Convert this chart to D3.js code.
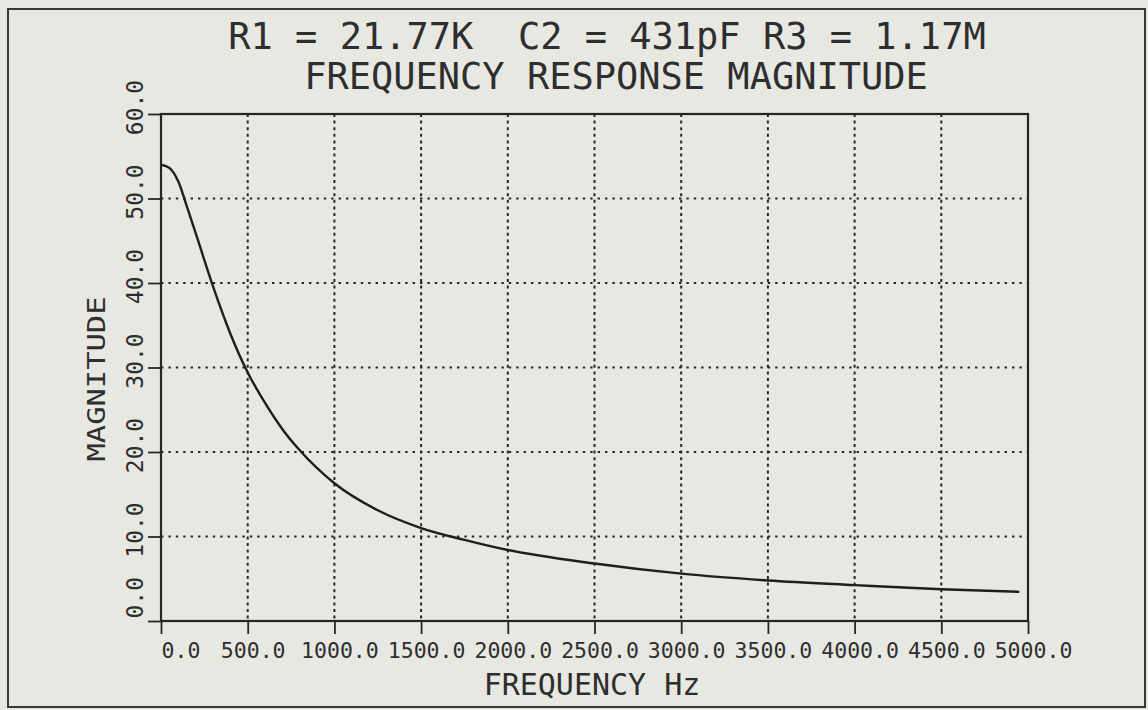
<!DOCTYPE html>
<html>
<head>
<meta charset="utf-8">
<script src="https://cdn.jsdelivr.net/npm/d3@7"></script>
<style>
  html, body { margin: 0; padding: 0; background: #e8e8e2; }
  svg { display: block; }
  text { font-family: "DejaVu Sans Mono", "Liberation Mono", monospace; fill: #2e2e2e; }
</style>
</head>
<body>
<svg id="chart" width="1148" height="710"></svg>
<script>
"use strict";

// values
const freqHz = [0, 50, 100, 150, 200, 300, 400, 500, 600, 700, 800, 1000, 1250,
  1500, 1750, 2000, 2500, 3000, 3500, 4000, 4500, 4950];
const magnitude = [54.0, 53.6, 52.0, 49.0, 45.9, 39.6, 34.0, 29.4, 25.8, 22.7, 20.2,
  16.3, 13.1, 11.0, 9.6, 8.4, 6.8, 5.6, 4.8, 4.25, 3.75, 3.45];

const xTicks = [0, 500, 1000, 1500, 2000, 2500, 3000, 3500, 4000, 4500, 5000];
const yTicks = [0, 10, 20, 30, 40, 50, 60];

const titleLines = ["R1 = 21.77K  C2 = 431pF R3 = 1.17M", "FREQUENCY RESPONSE MAGNITUDE"];
const xTitle = "FREQUENCY Hz";
const yTitle = "MAGNITUDE";

const ink = "#262626";
const svg = d3.select("#chart");

const box = { left: 161, right: 1028, top: 114, bottom: 621 };

const x = d3.scaleLinear().domain([0, 5000]).range([box.left, box.right]);
const y = d3.scaleLinear().domain([0, 60]).range([box.bottom, box.top]);

// outer frame
svg.append("rect")
  .attr("x", 8).attr("y", 9)
  .attr("width", 1137).attr("height", 698)
  .attr("fill", "none")
  .attr("stroke", ink)
  .attr("stroke-width", 1.8);

// titles
svg.append("text")
  .attr("x", 607).attr("y", 49)
  .attr("text-anchor", "middle")
  .style("font-size", "37px")
  .attr("xml:space", "preserve")
  .text(titleLines[0]);
svg.append("text")
  .attr("x", 616).attr("y", 89)
  .attr("text-anchor", "middle")
  .style("font-size", "37px")
  .text(titleLines[1]);

// dotted grid
const grid = svg.append("g").attr("stroke", ink).attr("stroke-width", 2);
grid.selectAll("line.vgrid")
  .data(xTicks.slice(1, -1))
  .join("line")
  .attr("class", "vgrid")
  .attr("x1", (d) => x(d)).attr("x2", (d) => x(d))
  .attr("y1", y(60)).attr("y2", y(0))
  .attr("stroke-dasharray", "3,3.6");
grid.selectAll("line.hgrid")
  .data(yTicks.slice(1, -1))
  .join("line")
  .attr("class", "hgrid")
  .attr("x1", x(0)).attr("x2", x(5000))
  .attr("y1", (d) => y(d)).attr("y2", (d) => y(d))
  .attr("stroke-dasharray", "2.4,5");

// axes
const xAxis = d3.axisBottom(x)
  .tickValues(xTicks)
  .tickSize(13)
  .tickSizeOuter(0)
  .tickFormat((d) => d.toFixed(1));
const yAxis = d3.axisLeft(y)
  .tickValues(yTicks)
  .tickSize(13)
  .tickSizeOuter(0)
  .tickFormat((d) => d.toFixed(1));

const gx = svg.append("g")
  .attr("transform", `translate(0,${box.bottom})`)
  .call(xAxis);
const gy = svg.append("g")
  .attr("transform", `translate(${box.left},0)`)
  .call(yAxis);

[gx, gy].forEach((g) => {
  g.select(".domain").remove();
  g.selectAll(".tick line").attr("stroke", ink).attr("stroke-width", 1.8);
  g.selectAll(".tick text").attr("fill", "#2e2e2e").style("font-size", "21.5px");
});

gx.selectAll(".tick text")
  .attr("y", 37)
  .attr("dy", 0)
  .attr("text-anchor", (d) => (d === 0 ? "start" : "middle"))
  .attr("x", (d) => (d === 0 ? 0 : 5));

gy.selectAll(".tick text")
  .attr("transform", "rotate(-90)")
  .attr("y", -18)
  .attr("dy", 0)
  .attr("text-anchor", (d) => (d === 0 ? "start" : "middle"))
  .attr("x", (d) => (d === 0 ? 3 : 7))
  .style("font-size", "23px");

// plot frame
svg.append("rect")
  .attr("x", box.left).attr("y", box.top)
  .attr("width", box.right - box.left)
  .attr("height", box.bottom - box.top)
  .attr("fill", "none")
  .attr("stroke", ink)
  .attr("stroke-width", 2.2);

// axis titles
svg.append("text")
  .attr("x", 592).attr("y", 695)
  .attr("text-anchor", "middle")
  .style("font-size", "30px")
  .text(xTitle);
svg.append("text")
  .attr("transform", `translate(105,379) rotate(-90)`)
  .attr("text-anchor", "middle")
  .attr("textLength", 165)
  .attr("lengthAdjust", "spacingAndGlyphs")
  .style("font-size", "25px")
  .text(yTitle);

// response curve
const line = d3.line()
  .x((d) => x(d[0]))
  .y((d) => y(d[1]))
  .curve(d3.curveMonotoneX);

svg.append("path")
  .datum(d3.zip(freqHz, magnitude))
  .attr("fill", "none")
  .attr("stroke", "#1e1e1e")
  .attr("stroke-width", 2.4)
  .attr("d", line);
</script>
</body>
</html>
